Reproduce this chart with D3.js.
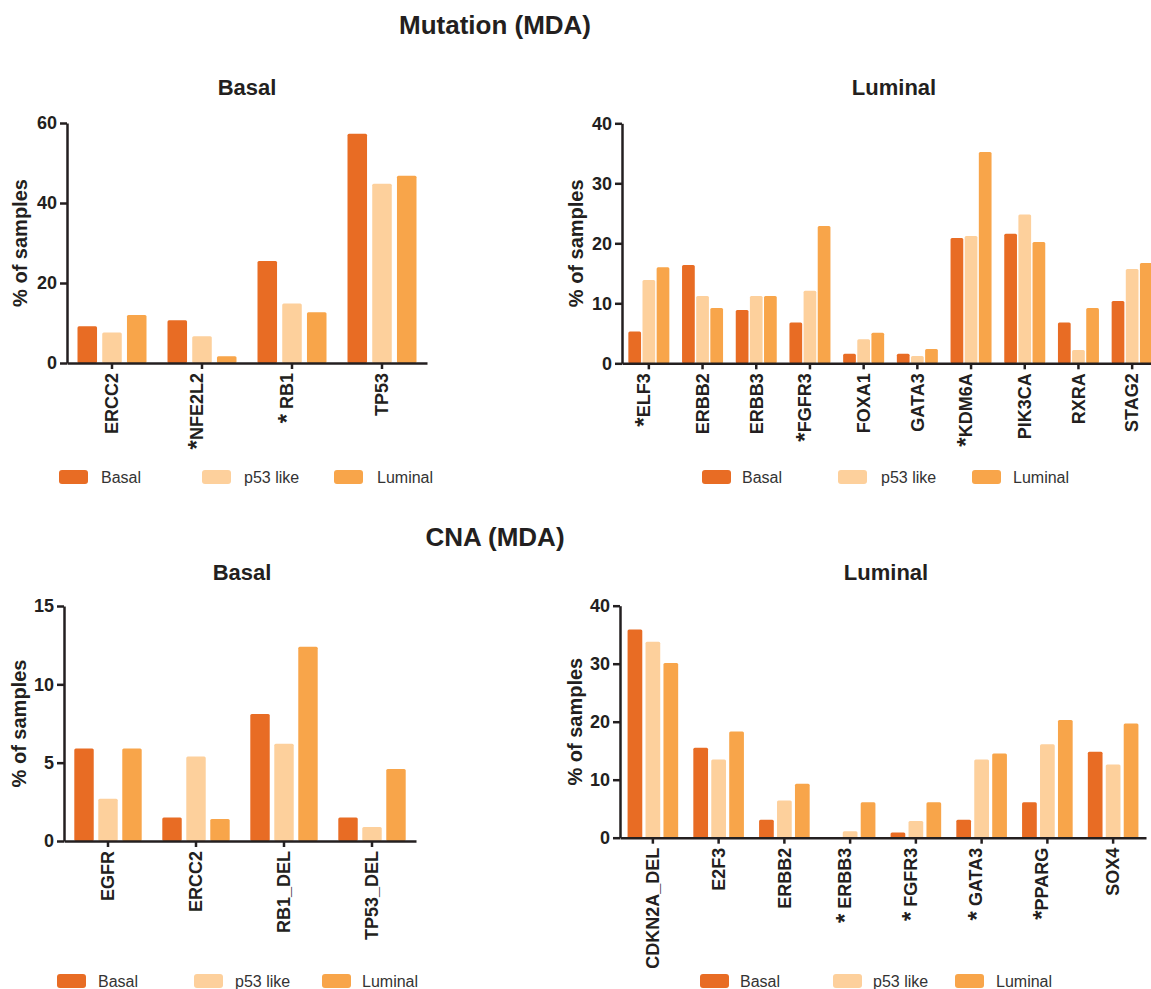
<!DOCTYPE html>
<html>
<head>
<meta charset="utf-8">
<script src="https://cdn.jsdelivr.net/npm/d3@7"></script>
<style>
  body { margin: 0; background: #fff; }
  svg { display: block; font-family: "Liberation Sans", Arial, sans-serif; }
</style>
</head>
<body>
<svg width="1151" height="989"></svg>
<script>
const series = ["Basal", "p53 like", "Luminal"];
const colors = ["#E86C24", "#FDD09C", "#F8A54A"];

// Mutation (MDA) - Basal
const mutBasalGenes = ["ERCC2", "*NFE2L2", "* RB1", "TP53"];
const mutBasalBasal = [9.2, 10.7, 25.5, 57.3];
const mutBasalP53 = [7.6, 6.7, 14.9, 44.8];
const mutBasalLum = [12.0, 1.7, 12.7, 46.8];
const mutBasalTicks = [0, 20, 40, 60];

// Mutation (MDA) - Luminal
const mutLumGenes = ["*ELF3", "ERBB2", "ERBB3", "*FGFR3", "FOXA1", "GATA3", "*KDM6A", "PIK3CA", "RXRA", "STAG2"];
const mutLumBasal = [5.3, 16.4, 8.9, 6.8, 1.6, 1.6, 20.9, 21.6, 6.8, 10.4];
const mutLumP53 = [13.9, 11.2, 11.2, 12.1, 4.0, 1.2, 21.2, 24.8, 2.2, 15.7];
const mutLumLum = [16.0, 9.2, 11.2, 22.9, 5.1, 2.4, 35.2, 20.2, 9.2, 16.7];
const mutLumTicks = [0, 10, 20, 30, 40];

// CNA (MDA) - Basal
const cnaBasalGenes = ["EGFR", "ERCC2", "RB1_DEL", "TP53_DEL"];
const cnaBasalBasal = [5.9, 1.5, 8.1, 1.5];
const cnaBasalP53 = [2.7, 5.4, 6.2, 0.9];
const cnaBasalLum = [5.9, 1.4, 12.4, 4.6];
const cnaBasalTicks = [0, 5, 10, 15];

// CNA (MDA) - Luminal
const cnaLumGenes = ["CDKN2A_DEL", "E2F3", "ERBB2", "* ERBB3", "* FGFR3", "* GATA3", "*PPARG", "SOX4"];
const cnaLumBasal = [35.9, 15.5, 3.1, 0, 0.9, 3.1, 6.1, 14.8];
const cnaLumP53 = [33.8, 13.5, 6.4, 1.1, 2.9, 13.5, 16.1, 12.6];
const cnaLumLum = [30.1, 18.3, 9.3, 6.1, 6.1, 14.5, 20.3, 19.7];
const cnaLumTicks = [0, 10, 20, 30, 40];

const svg = d3.select("svg");
const ink = "#231f20";

const drawPanel = p => {
  const rows = p.genes.map((g, i) => ({ gene: g, vals: p.values.map(v => v[i]) }));
  const x0 = d3.scaleBand().domain(p.genes).range([p.left, p.right]);
  const x1 = d3.scaleBand().domain(series).range([0, p.group]).paddingInner(p.pad);
  const y = d3.scaleLinear().domain([0, d3.max(p.ticks)]).range([p.bottom, p.top]);
  const off = (x0.bandwidth() - p.group) / 2;

  const g = svg.append("g");

  g.selectAll("g.grp")
    .data(rows)
    .join("g")
    .attr("class", "grp")
    .attr("transform", d => `translate(${x0(d.gene) + off},0)`)
    .selectAll("rect")
    .data(d => d.vals.map((v, k) => ({ s: series[k], v, k })))
    .join("rect")
    .attr("x", d => x1(d.s))
    .attr("y", d => y(d.v))
    .attr("width", x1.bandwidth())
    .attr("height", d => y(0) - y(d.v))
    .attr("rx", 1.5)
    .attr("fill", d => colors[d.k]);

  const ya = g.append("g")
    .attr("transform", `translate(${p.left},0)`)
    .call(d3.axisLeft(y).tickValues(p.ticks).tickSize(7).tickSizeOuter(0).tickPadding(3));
  const xa = g.append("g")
    .attr("transform", `translate(0,${p.bottom})`)
    .call(d3.axisBottom(x0).tickSize(6).tickSizeOuter(0));

  [ya, xa].forEach(a => {
    a.select(".domain").attr("stroke", ink).attr("stroke-width", 2.5);
    a.selectAll(".tick line").attr("stroke", ink).attr("stroke-width", 2.5);
    a.selectAll("text")
      .attr("fill", ink)
      .style("font-size", "18px")
      .style("font-weight", "bold");
  });

  // gene labels: rotated, with a bigger asterisk where marked
  xa.selectAll("text")
    .attr("transform", "rotate(-90)")
    .attr("text-anchor", "end")
    .attr("x", -10)
    .attr("y", 0)
    .attr("dy", "0.35em")
    .text(null)
    .each(function(d) {
      const t = d3.select(this);
      if (d.startsWith("*")) {
        t.append("tspan").style("font-size", "24px").attr("dy", "0.12em").text("*");
        t.append("tspan").attr("dy", "-0.12em").text(d.slice(1));
      } else {
        t.text(d);
      }
    });

  g.append("text")
    .attr("transform", `translate(${p.ylabX},${(p.top + p.bottom) / 2}) rotate(-90)`)
    .attr("text-anchor", "middle")
    .attr("fill", ink)
    .style("font-size", "20px")
    .style("font-weight", "bold")
    .text("% of samples");

  g.append("text")
    .attr("x", p.titleX)
    .attr("y", p.titleY)
    .attr("text-anchor", "middle")
    .attr("fill", ink)
    .style("font-size", "22px")
    .style("font-weight", "bold")
    .text(p.title);

  const lg = g.append("g").selectAll("g")
    .data(series)
    .join("g")
    .attr("transform", (d, i) => `translate(${p.legX[i]},${p.legY})`);
  lg.append("rect")
    .attr("x", 0).attr("y", -7)
    .attr("width", 29).attr("height", 14)
    .attr("rx", 3)
    .attr("fill", (d, i) => colors[i]);
  lg.append("text")
    .attr("x", (d, i) => p.legT[i])
    .attr("y", 0)
    .attr("dy", "0.35em")
    .attr("fill", "#333")
    .style("font-size", "16px")
    .text(d => d);
};

drawPanel({
  title: "Basal", titleX: 247, titleY: 95,
  genes: mutBasalGenes, values: [mutBasalBasal, mutBasalP53, mutBasalLum], ticks: mutBasalTicks,
  left: 67, right: 427, top: 123, bottom: 363, group: 69, pad: 0.21, ylabX: 27,
  legY: 477, legX: [59, 202, 334], legT: [42, 42, 43]
});
drawPanel({
  title: "Luminal", titleX: 894, titleY: 95,
  genes: mutLumGenes, values: [mutLumBasal, mutLumP53, mutLumLum], ticks: mutLumTicks,
  left: 622, right: 1159, top: 123.3, bottom: 363.3, group: 41, pad: 0.1, ylabX: 583,
  legY: 477, legX: [702, 838, 972], legT: [40, 43, 41]
});
drawPanel({
  title: "Basal", titleX: 242, titleY: 580,
  genes: cnaBasalGenes, values: [cnaBasalBasal, cnaBasalP53, cnaBasalLum], ticks: cnaBasalTicks,
  left: 64, right: 416, top: 606, bottom: 841, group: 67.4, pad: 0.19, ylabX: 26,
  legY: 981, legX: [57, 194, 322], legT: [41, 41, 40]
});
drawPanel({
  title: "Luminal", titleX: 886, titleY: 580,
  genes: cnaLumGenes, values: [cnaLumBasal, cnaLumP53, cnaLumLum], ticks: cnaLumTicks,
  left: 620, right: 1146, top: 605.7, bottom: 837.7, group: 50.6, pad: 0.18, ylabX: 582,
  legY: 981, legX: [700, 833, 955], legT: [40, 40, 41]
});

svg.append("text")
  .attr("x", 495).attr("y", 34)
  .attr("text-anchor", "middle")
  .attr("fill", ink)
  .style("font-size", "26px")
  .style("font-weight", "bold")
  .text("Mutation (MDA)");
svg.append("text")
  .attr("x", 495).attr("y", 546)
  .attr("text-anchor", "middle")
  .attr("fill", ink)
  .style("font-size", "26px")
  .style("font-weight", "bold")
  .text("CNA (MDA)");
</script>
</body>
</html>
